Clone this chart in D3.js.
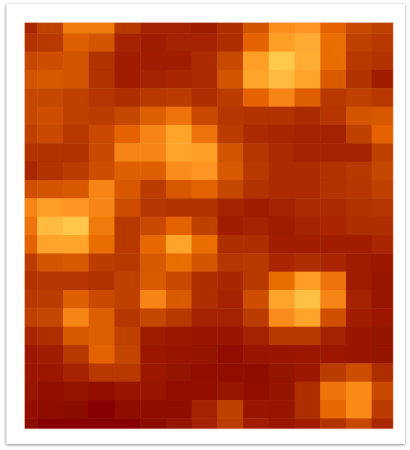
<!DOCTYPE html>
<html lang="en">
<head>
<meta charset="UTF-8">
<title>Heatmap</title>
<style>
  body { margin: 0; background: #fff; }
</style>
</head>
<body>
<svg id="chart" width="410" height="450"></svg>
<script src="https://d3js.org/d3.v7.min.js"></script>
<script>
// grid of intensities, 0 = darkest red, 1 = brightest yellow
var columns = d3.range(15);
var rows = d3.range(23);
var values = [
  [0.25,0.40,0.68,0.68,0.35,0.20,0.20,0.17,0.28,0.50,0.77,0.80,0.58,0.45,0.40],
  [0.30,0.35,0.55,0.50,0.22,0.17,0.20,0.22,0.28,0.58,0.83,0.87,0.62,0.40,0.35],
  [0.43,0.47,0.50,0.30,0.18,0.18,0.18,0.27,0.45,0.83,0.98,0.88,0.62,0.35,0.30],
  [0.50,0.52,0.50,0.30,0.18,0.21,0.24,0.27,0.50,0.85,0.93,0.85,0.53,0.30,0.18],
  [0.43,0.43,0.40,0.33,0.28,0.35,0.37,0.28,0.37,0.58,0.73,0.55,0.35,0.40,0.35],
  [0.43,0.47,0.40,0.37,0.43,0.55,0.65,0.45,0.33,0.30,0.30,0.26,0.33,0.50,0.52],
  [0.40,0.45,0.35,0.45,0.58,0.72,0.85,0.65,0.37,0.26,0.23,0.20,0.20,0.40,0.58],
  [0.30,0.30,0.30,0.45,0.72,0.72,0.85,0.83,0.50,0.33,0.26,0.20,0.20,0.20,0.40],
  [0.24,0.30,0.37,0.47,0.55,0.55,0.76,0.80,0.52,0.35,0.27,0.27,0.30,0.35,0.43],
  [0.47,0.50,0.52,0.73,0.52,0.37,0.52,0.58,0.43,0.30,0.27,0.27,0.30,0.33,0.40],
  [0.73,0.83,0.80,0.73,0.47,0.33,0.30,0.30,0.20,0.16,0.20,0.26,0.26,0.30,0.33],
  [0.65,0.93,0.97,0.68,0.35,0.45,0.58,0.40,0.18,0.20,0.17,0.20,0.25,0.28,0.28],
  [0.58,0.85,0.85,0.62,0.35,0.60,0.85,0.62,0.28,0.28,0.18,0.18,0.18,0.18,0.24],
  [0.37,0.50,0.52,0.37,0.35,0.52,0.62,0.50,0.33,0.35,0.25,0.28,0.25,0.16,0.15],
  [0.30,0.33,0.33,0.30,0.40,0.53,0.45,0.28,0.23,0.35,0.62,0.83,0.65,0.18,0.12],
  [0.35,0.37,0.55,0.45,0.40,0.73,0.53,0.28,0.22,0.47,0.85,0.95,0.72,0.22,0.12],
  [0.40,0.43,0.73,0.55,0.33,0.43,0.35,0.20,0.20,0.37,0.76,0.85,0.48,0.18,0.15],
  [0.23,0.28,0.52,0.55,0.40,0.16,0.15,0.12,0.12,0.20,0.35,0.35,0.20,0.14,0.10],
  [0.15,0.18,0.35,0.58,0.42,0.15,0.12,0.10,0.08,0.12,0.14,0.15,0.15,0.14,0.10],
  [0.14,0.15,0.22,0.35,0.35,0.15,0.10,0.08,0.07,0.06,0.10,0.15,0.37,0.47,0.28],
  [0.12,0.08,0.10,0.08,0.12,0.12,0.07,0.09,0.11,0.07,0.10,0.28,0.65,0.75,0.45],
  [0.09,0.05,0.03,0.01,0.05,0.05,0.06,0.20,0.40,0.14,0.12,0.28,0.60,0.75,0.37],
  [0.03,0.01,0.00,0.00,0.01,0.03,0.10,0.20,0.37,0.18,0.12,0.18,0.30,0.43,0.23]
];

var svg = d3.select("#chart");

var plot = {left: 24.3, right: 393.3, top: 22.3, bottom: 429};

// the image is cropped, so edge cells show only partly
var x = d3.scaleLinear().domain([0.495, 14.84]).range([plot.left, plot.right]);
var y = d3.scaleLinear().domain([0.4, 22.58]).range([plot.top, plot.bottom]);

var color = d3.scaleLinear()
    .domain([0, 0.2, 0.4, 0.6, 0.8, 1])
    .range(["#860400", "#a42000", "#c04000", "#e86800", "#ff9520", "#ffd050"]);

var defs = svg.append("defs");
defs.append("filter")
    .attr("id", "shadow")
    .attr("x", "-5%").attr("y", "-5%")
    .attr("width", "110%").attr("height", "110%")
  .append("feDropShadow")
    .attr("dx", -0.3).attr("dy", 0.8)
    .attr("stdDeviation", 1.8)
    .attr("flood-color", "#666")
    .attr("flood-opacity", 0.85);

// image looks slightly smoothed
defs.append("filter")
    .attr("id", "soft")
  .append("feGaussianBlur")
    .attr("stdDeviation", 0.6);

defs.append("clipPath")
    .attr("id", "clip")
  .append("rect")
    .attr("x", plot.left)
    .attr("y", plot.top)
    .attr("width", plot.right - plot.left)
    .attr("height", plot.bottom - plot.top);

// white frame
svg.append("rect")
    .attr("x", 6.5)
    .attr("y", 4)
    .attr("width", 398.5)
    .attr("height", 440)
    .attr("fill", "#fff")
    .attr("filter", "url(#shadow)");

var cells = [];
rows.forEach(function (r) {
  columns.forEach(function (c) {
    cells.push({row: r, col: c, value: values[r][c]});
  });
});

svg.append("g")
    .attr("clip-path", "url(#clip)")
  .append("g")
    .attr("filter", "url(#soft)")
  .selectAll("rect")
  .data(cells)
  .enter().append("rect")
    .attr("x", function (d) { return x(d.col); })
    .attr("y", function (d) { return y(d.row); })
    .attr("width", function (d) { return x(d.col + 1) - x(d.col) + 0.5; })
    .attr("height", function (d) { return y(d.row + 1) - y(d.row) + 0.5; })
    .attr("fill", function (d) { return color(d.value); });

svg.append("rect")
    .attr("x", plot.left)
    .attr("y", plot.top)
    .attr("width", plot.right - plot.left)
    .attr("height", plot.bottom - plot.top)
    .attr("fill", "none")
    .attr("stroke", "#f3d6cc")
    .attr("stroke-width", 0.8);
</script>
</body>
</html>
